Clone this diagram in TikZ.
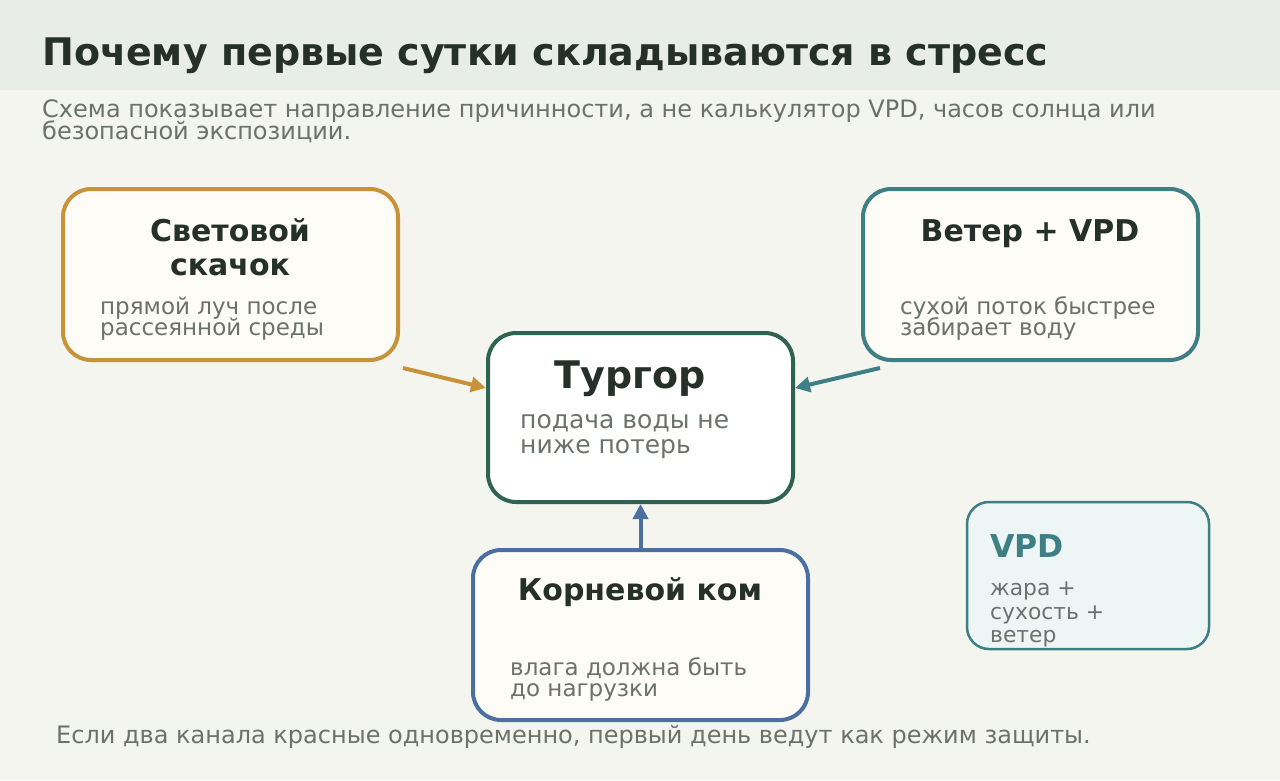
\documentclass[tikz,border=0pt]{standalone}
\usepackage{fontspec}
\setmainfont{DejaVu Sans}
\usetikzlibrary{calc,arrows.meta}

\definecolor{pagebg}{HTML}{F5F5EF}
\definecolor{headbg}{HTML}{E8EDE7}
\definecolor{ink}{HTML}{243029}
\definecolor{muted}{HTML}{6B716B}
\definecolor{amber}{HTML}{C8923A}
\definecolor{tealc}{HTML}{3E7F85}
\definecolor{pine}{HTML}{2F6351}
\definecolor{steel}{HTML}{4A6FA0}
\definecolor{cardbg}{HTML}{FDFCF7}
\definecolor{mistbg}{HTML}{EDF6F5}

\begin{document}
\begin{tikzpicture}[x=1pt,y=-1pt,
  card/.style={draw, line width=4pt, rounded corners=28pt, fill=cardbg, inner sep=0pt},
  cardttl/.style={anchor=base, text=ink, inner sep=0pt, font=\fontsize{30}{30}\bfseries\selectfont},
  note/.style={anchor=base west, text=muted, inner sep=0pt, font=\fontsize{23}{23}\selectfont},
  widenote/.style={anchor=base west, text=muted, inner sep=0pt, font=\fontsize{24}{24}\selectfont},
  smallnote/.style={anchor=base west, text=muted, inner sep=0pt, font=\fontsize{21.8}{21.8}\selectfont},
  link/.style={line width=4pt, -{Triangle[length=15pt,width=15pt]}}]

% page and header band
\fill[pagebg] (0,0) rectangle (1280,780);
\fill[headbg] (0,0) rectangle (1280,90);
\useasboundingbox (0,0) rectangle (1280,780);

\node[anchor=base west, text=ink, inner sep=0pt, font=\fontsize{38}{38}\bfseries\selectfont] (title) at (42,65) {Почему первые сутки складываются в стресс};
\node[widenote] (sub1) at (42,117) {Схема показывает направление причинности, а не калькулятор VPD, часов солнца или};
\node[widenote] (sub2) at (42,139.5) {безопасной экспозиции.};

% cause cards
\node[card, draw=amber, minimum width=335pt, minimum height=171pt] (light) at (230.5,274.5) {};
\node[cardttl] (lightT1) at (230,241) {Световой};
\node[cardttl] (lightT2) at (230,275) {скачок};
\node[note] (lightB1) at (100,314) {прямой луч после};
\node[note] (lightB2) at (100,335) {рассеянной среды};

\node[card, draw=tealc, minimum width=335pt, minimum height=171pt] (wind) at (1030.5,274.5) {};
\node[cardttl] (windT) at (1030,241) {Ветер + VPD};
\node[note] (windB1) at (900,314) {сухой поток быстрее};
\node[note] (windB2) at (900,335) {забирает воду};

% central card
\node[card, draw=pine, fill=white, minimum width=305pt, minimum height=169pt] (turgor) at (640.5,417.5) {};
\node[anchor=base, text=ink, inner sep=0pt, font=\fontsize{38}{38}\bfseries\selectfont] (turgorT) at (630,388) {Тургор};
\node[anchor=base west, text=muted, inner sep=0pt, font=\fontsize{25}{25}\selectfont] (turgorB1) at (520,428) {подача воды не};
\node[anchor=base west, text=muted, inner sep=0pt, font=\fontsize{25}{25}\selectfont] (turgorB2) at (520,453) {ниже потерь};

\node[card, draw=steel, minimum width=335pt, minimum height=170pt] (root) at (640.5,635) {};
\node[cardttl] (rootT) at (640,600) {Корневой ком};
\node[note] (rootB1) at (510,675) {влага должна быть};
\node[note] (rootB2) at (510,696) {до нагрузки};

% side legend
\node[draw=tealc, line width=2.5pt, rounded corners=22pt, fill=mistbg, minimum width=242pt, minimum height=147pt, inner sep=0pt] (vpd) at (1088,575.5) {};
\node[anchor=base west, text=tealc, inner sep=0pt, font=\fontsize{31.5}{31.5}\bfseries\selectfont] (vpdT) at (990,557) {VPD};
\node[smallnote] (vpdB1) at (990,595) {жара +};
\node[smallnote] (vpdB2) at (990,619) {сухость +};
\node[smallnote] (vpdB3) at (990,642) {ветер};

% connectors
\draw[link, amber] ($(light.south east)+(3,6)$) -- ($(turgor.north west)+(0,57)$);
\draw[link, tealc] ($(wind.south west)+(19,6)$) -- ($(turgor.north east)+(0,57)$);
\draw[link, steel] ($(root.north)+(0,2)$) -- (turgor.south);

\node[widenote] (foot) at (56,743) {Если два канала красные одновременно, первый день ведут как режим защиты.};
\end{tikzpicture}
\end{document}
